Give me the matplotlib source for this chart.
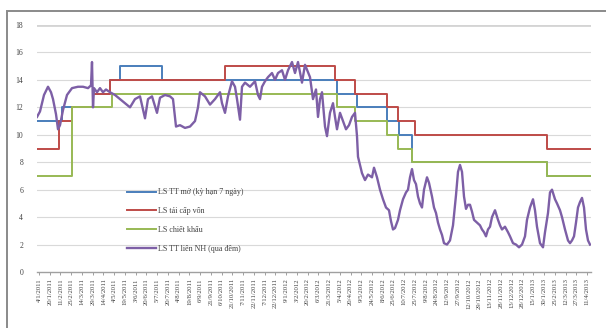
import matplotlib
matplotlib.use("Agg")
import matplotlib.pyplot as plt
from matplotlib.patches import Rectangle
import numpy as np

# Policy rates as step series: (session index where the rate takes effect, rate %)
omo_x = [0, 25, 56, 73, 83, 125, 300, 320, 350, 362, 375, 510, 554]
omo_y = [11, 12, 13, 14, 15, 14, 13, 12, 11, 10, 8, 7, 7]

refi_x = [0, 22, 35, 56, 73, 188, 298, 318, 350, 361, 378, 510, 554]
refi_y = [9, 11, 12, 13, 14, 15, 14, 13, 12, 11, 10, 9, 9]

disc_x = [0, 35, 75, 300, 318, 350, 361, 375, 510, 554]
disc_y = [7, 12, 13, 12, 11, 10, 9, 8, 7, 7]

# Overnight interbank rate (session index, rate %)
ib_x = [0, 3, 7, 11, 14, 16, 19, 21, 23, 26, 30, 35, 41, 46, 51, 54, 55, 56, 57,
        60, 63, 66, 69, 73, 78, 83, 88, 93, 98, 103, 108, 111, 115, 120, 123,
        128, 133, 136, 139, 143, 148, 153, 158, 161, 163, 168, 173, 178, 183,
        185, 188, 191, 195, 198, 200, 203, 205, 208, 213, 218, 221, 223, 225,
        228, 231, 235, 238, 241, 245, 248, 251, 255, 258, 261, 265, 268, 273,
        276, 279, 281, 283, 285, 288, 290, 293, 296, 298, 300, 303, 306, 309,
        312, 315, 318, 320, 321, 323, 325, 328, 331, 335, 337, 340, 343, 346,
        349, 352, 354, 356, 358, 361, 363, 366, 369, 371, 373, 375, 377, 379,
        381, 383, 385, 387, 390, 392, 395, 397, 399, 401, 403, 405, 407, 410,
        413, 416, 419, 421, 423, 425, 427, 429, 431, 433, 435, 437, 440, 443,
        445, 447, 449, 451, 453, 455, 458, 461, 463, 465, 468, 471, 473, 476,
        479, 482, 485, 488, 490, 493, 496, 498, 500, 503, 506, 508, 511, 513,
        515, 518, 520, 523, 525, 528, 531, 533, 535, 537, 539, 541, 543, 545,
        547, 549, 551, 553]
ib_y = [11.3, 11.7, 12.9, 13.5, 13.1, 12.6, 11.5, 10.4, 10.7, 11.8, 12.9, 13.4,
        13.5, 13.5, 13.4, 13.6, 15.3, 12.0, 13.4, 13.1, 13.4, 13.1, 13.3, 13.1,
        12.9, 12.6, 12.3, 12.0, 12.6, 12.8, 11.2, 12.6, 12.8, 11.6, 12.7, 12.9,
        12.8, 12.6, 10.6, 10.7, 10.5, 10.6, 11.0, 12.0, 13.1, 12.8, 12.2, 12.6,
        13.1, 12.3, 11.6, 12.8, 13.9, 13.5, 12.6, 11.1, 13.5, 13.8, 13.5, 13.9,
        12.9, 12.6, 13.5, 13.9, 14.2, 14.5, 14.0, 14.5, 14.7, 14.0, 14.7, 15.3,
        14.5, 15.3, 13.8, 15.1, 14.2, 12.6, 13.3, 11.3, 12.6, 13.1, 10.6, 9.9,
        11.6, 12.3, 11.3, 10.4, 11.6, 11.0, 10.4, 10.7, 11.3, 11.6, 9.9, 8.4,
        7.8, 7.2, 6.7, 7.1, 6.9, 7.6, 6.9, 6.0, 5.3, 4.7, 4.5, 3.7, 3.1, 3.2,
        3.8, 4.5, 5.3, 5.8, 6.0, 6.9, 7.5, 6.7, 6.4, 5.5, 5.0, 4.7, 6.0, 6.9,
        6.5, 5.5, 4.7, 4.3, 3.6, 3.1, 2.7, 2.1, 2.0, 2.3, 3.4, 5.6, 7.3, 7.8,
        7.3, 5.5, 4.6, 4.9, 4.9, 4.4, 3.8, 3.6, 3.4, 3.1, 2.9, 2.6, 3.1, 3.3,
        4.0, 4.5, 3.8, 3.4, 3.1, 3.3, 2.9, 2.6, 2.1, 2.0, 1.8, 2.0, 2.6, 3.8,
        4.7, 5.3, 4.5, 3.3, 2.1, 1.8, 2.9, 4.3, 5.8, 6.0, 5.3, 5.0, 4.5, 4.0,
        3.1, 2.3, 2.1, 2.3, 2.6, 3.6, 4.7, 5.1, 5.4, 4.7, 3.1, 2.3, 2.0]

date_labels = [
    "4/1/2011", "20/1/2011", "11/2/2011", "25/2/2011", "14/3/2011", "29/3/2011",
    "14/4/2011", "4/5/2011", "19/5/2011", "3/6/2011", "20/6/2011", "5/7/2011",
    "20/7/2011", "4/8/2011", "19/8/2011", "6/9/2011", "21/9/2011", "6/10/2011",
    "21/10/2011", "7/11/2011", "22/11/2011", "7/12/2011", "22/12/2011",
    "9/1/2012", "3/2/2012", "20/2/2012", "6/3/2012", "21/3/2012", "5/4/2012",
    "20/4/2012", "9/5/2012", "24/5/2012", "8/6/2012", "25/6/2012", "10/7/2012",
    "25/7/2012", "9/8/2012", "24/8/2012", "12/9/2012", "27/9/2012",
    "12/10/2012", "29/10/2012", "13/11/2012", "28/11/2012", "13/12/2012",
    "28/12/2012", "15/1/2013", "30/1/2013", "25/2/2013", "12/3/2013",
    "27/3/2013", "11/4/2013"]

series_names = ["LS TT mở (kỳ hạn 7 ngày)", "LS tái cấp vốn", "LS chiết khấu",
                "LS TT liên NH (qua đêm)"]
colors = ["#4a7ebb", "#be4b48", "#98b954", "#7d5fa6"]

plt.rcParams['font.family'] = ['Liberation Serif', 'DejaVu Serif']

fig = plt.figure(figsize=(6.06, 3.28), dpi=100)
ax = fig.add_axes([37 / 606, 1 - 272 / 328, 554 / 606, 247 / 328])

ax.step(omo_x, omo_y, where='post', color=colors[0], lw=1.4, label=series_names[0])
ax.step(refi_x, refi_y, where='post', color=colors[1], lw=1.4, label=series_names[1])
ax.step(disc_x, disc_y, where='post', color=colors[2], lw=1.4, label=series_names[2])
ax.plot(ib_x, ib_y, color=colors[3], lw=1.7, label=series_names[3])

ax.set_xlim(0, 554)
ax.set_ylim(0, 18)
ax.set_yticks(range(0, 19, 2))
for v in range(2, 18, 2):
    ax.axhline(v, color="#d9d9d9", lw=0.8, zorder=0)
ax.axhline(18, color="#d4d4d4", lw=2.0, zorder=0)

tick_pos = np.linspace(2, 550, len(date_labels))
ax.set_xticks(tick_pos)
ax.set_xticklabels(date_labels, rotation=90, fontsize=4.8, color="#404040")
ax.tick_params(axis='x', length=2.5, width=0.6, color="#909090", pad=2)
ax.tick_params(axis='y', length=0, labelsize=5.5, labelcolor="#404040", pad=10)

for s in ['top', 'right', 'left']:
    ax.spines[s].set_visible(False)
ax.spines['bottom'].set_color("#a0a0a0")
ax.spines['bottom'].set_linewidth(1.0)

leg = ax.legend(loc='upper left', bbox_to_anchor=(0.155, 0.355), frameon=False,
                fontsize=5.8, handlelength=3.6, handletextpad=0.3,
                labelspacing=1.35, borderpad=0)
for t in leg.get_texts():
    t.set_color("#404040")

# outer chart border
fig.patches.append(Rectangle((7 / 606, -0.05), 1.2, 1 - 11 / 328 + 0.05,
                             transform=fig.transFigure, fill=False,
                             edgecolor="#8a8a8a", lw=1.4, zorder=10))

fig.savefig("out.png", dpi=100, facecolor="white")
